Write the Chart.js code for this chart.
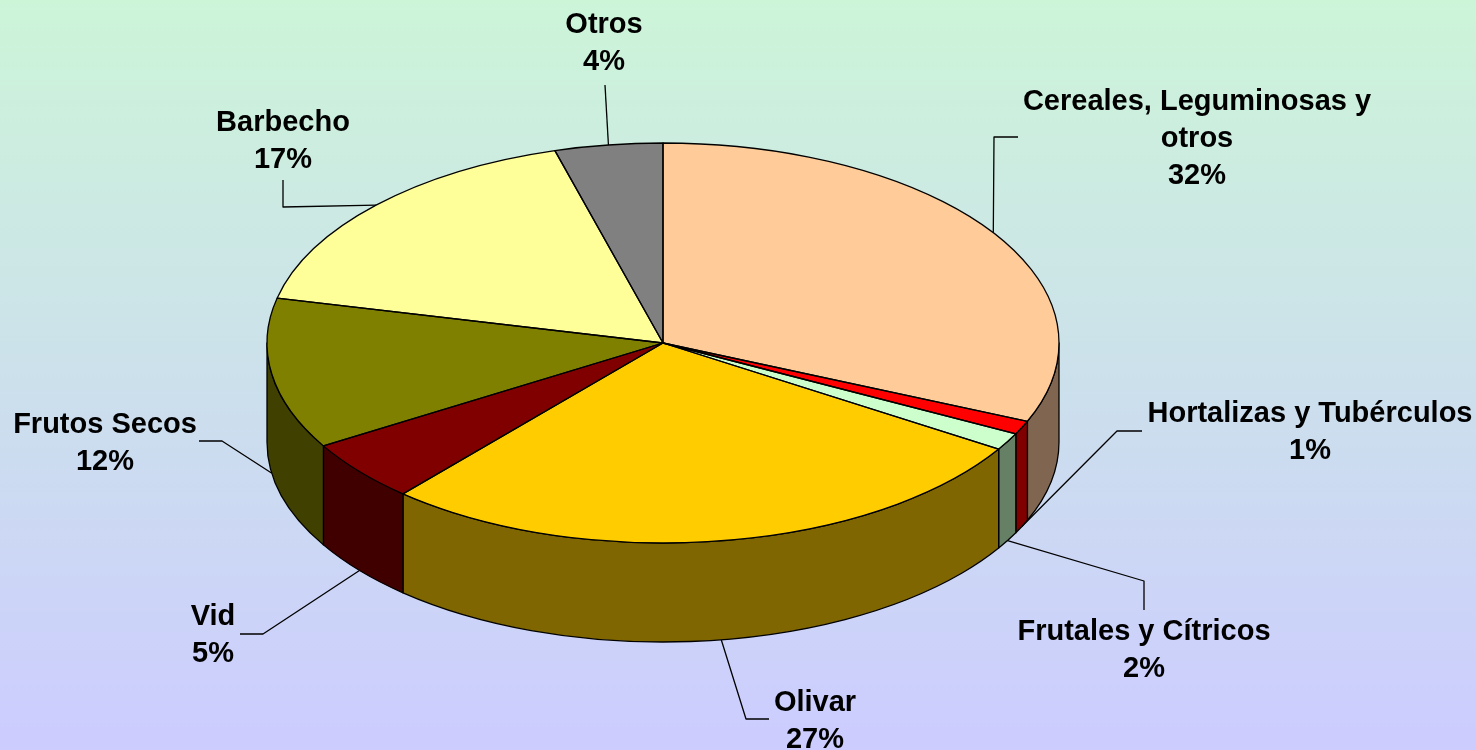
<!DOCTYPE html>
<html>
<head>
<meta charset="utf-8">
<title>Superficie</title>
<script src="https://cdn.jsdelivr.net/npm/chart.js@4"></script>
<style>
  html, body { margin: 0; padding: 0; background: #ccccff; overflow: hidden; }
  canvas { display: block; }
</style>
</head>
<body>
<canvas id="chart_pie" width="1476" height="750"></canvas>
<script>
const categories = [
  ["Cereales, Leguminosas y", "otros"],
  "Hortalizas y Tubérculos",
  "Frutales y Cítricos",
  "Olivar",
  "Vid",
  "Frutos Secos",
  "Barbecho",
  "Otros",
];
// slice sizes, the printed percentages are below
const shares = [31.4, 1.1, 1.4, 27.5, 5.0, 12.2, 17.0, 4.4];
const percentLabels = ["32%", "1%", "2%", "27%", "5%", "12%", "17%", "4%"];
const sliceColors = ["#ffcc99", "#ff0000", "#ccffcc", "#ffcc00", "#800000", "#808000", "#ffff99", "#808080"];
const wallColors = ["#806650", "#800000", "#668066", "#806600", "#400000", "#404000", "#808050", "#404040"];

// label centre and the bends of its leader line
const labelSpots = [
  { x: 1197, y: 102, bends: [[994, 137], [1018, 137]] },
  { x: 1310, y: 414, bends: [[1117, 431], [1142, 431]] },
  { x: 1144, y: 632, bends: [[1144, 581], [1144, 610]] },
  { x: 815, y: 703, bends: [[746, 719], [769, 719]] },
  { x: 213, y: 617, bends: [[263, 634], [240, 634]] },
  { x: 105, y: 425, bends: [[222, 441], [199, 441]] },
  { x: 283, y: 123, bends: [[283, 207], [283, 180]] },
  { x: 604, y: 25, bends: [[605, 85]] },
];

const squash = 0.505;
const depth = 99;
const lineHeight = 37;

// Chart.js only knows flat pies, so the arcs get squashed and a wall added here
const pie3d = {
  id: "pie3d",
  beforeDraw(chart) {
    const { ctx, width, height } = chart;
    const grad = ctx.createLinearGradient(0, 0, 0, height);
    grad.addColorStop(0, "#ccf5d8");
    grad.addColorStop(1, "#ccccff");
    ctx.save();
    ctx.fillStyle = grad;
    ctx.fillRect(0, 0, width, height);
    ctx.restore();
  },
  beforeDatasetsDraw(chart) {
    const ctx = chart.ctx;
    const arcs = chart.getDatasetMeta(0).data;
    const cx = arcs[0].x;
    const cy = arcs[0].y;
    const rx = arcs[0].outerRadius;
    const ry = rx * squash;

    ctx.save();
    ctx.lineWidth = 1.3;
    ctx.strokeStyle = "#000000";
    ctx.lineJoin = "round";

    // leader lines go under the pie
    arcs.forEach((arc, i) => {
      const mid = (arc.startAngle + arc.endAngle) / 2;
      const sy = Math.sin(mid);
      const fromX = cx + rx * Math.cos(mid);
      const fromY = cy + ry * sy + (sy > 0 ? depth : 0);
      ctx.beginPath();
      ctx.moveTo(fromX, fromY);
      labelSpots[i].bends.forEach((p) => ctx.lineTo(p[0], p[1]));
      ctx.stroke();
    });

    // front wall, only the part between 0 and PI can be seen
    arcs.forEach((arc, i) => {
      const a0 = Math.max(arc.startAngle, 0);
      const a1 = Math.min(arc.endAngle, Math.PI);
      if (a1 <= a0) return;
      ctx.beginPath();
      ctx.ellipse(cx, cy, rx, ry, 0, a0, a1);
      ctx.ellipse(cx, cy + depth, rx, ry, 0, a1, a0, true);
      ctx.closePath();
      ctx.fillStyle = wallColors[i];
      ctx.fill();
      ctx.stroke();
    });

    // top face
    ctx.save();
    ctx.translate(0, cy);
    ctx.scale(1, squash);
    ctx.translate(0, -cy);
    arcs.forEach((arc) => arc.draw(ctx));
    ctx.restore();

    // outlines drawn apart so the pen is not squashed too
    arcs.forEach((arc) => {
      ctx.beginPath();
      ctx.moveTo(cx, cy);
      ctx.ellipse(cx, cy, rx, ry, 0, arc.startAngle, arc.endAngle);
      ctx.closePath();
      ctx.stroke();
    });

    // labels
    ctx.fillStyle = "#000000";
    ctx.font = "bold 29px 'Liberation Sans', Arial, sans-serif";
    ctx.textAlign = "center";
    ctx.textBaseline = "middle";
    categories.forEach((cat, i) => {
      const lines = [].concat(cat, percentLabels[i]);
      lines.forEach((txt, n) => {
        ctx.fillText(txt, labelSpots[i].x, labelSpots[i].y + n * lineHeight);
      });
    });
    ctx.restore();
    return false;
  },
};

const ct_pie = document.getElementById("chart_pie");

new Chart(ct_pie, {
  type: "pie",
  data: {
    labels: categories,
    datasets: [
      {
        data: shares,
        backgroundColor: sliceColors,
        borderWidth: 0,
      },
    ],
  },
  options: {
    responsive: false,
    animation: false,
    radius: 396,
    layout: { padding: { right: 150, bottom: 64 } },
    plugins: {
      legend: { display: false },
      tooltip: { enabled: false },
    },
  },
  plugins: [pie3d],
});
</script>
</body>
</html>
